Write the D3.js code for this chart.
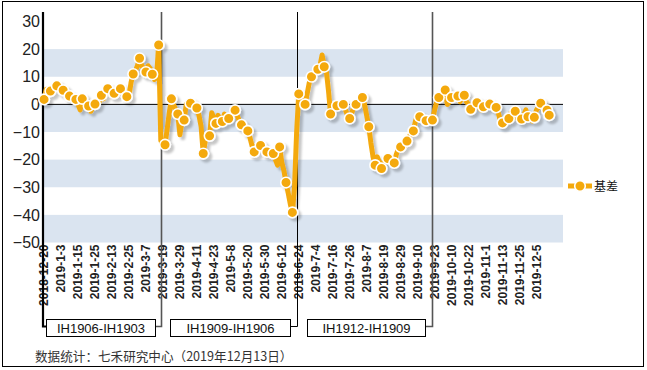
<!DOCTYPE html>
<html lang="zh">
<head>
  <meta charset="utf-8">
  <title>IH basis</title>
  <script src="https://d3js.org/d3.v7.min.js"></script>
  <style>
    body { margin: 0; background: #fff; }
    svg { display: block; font-family: "Liberation Sans", Arial, sans-serif; }
  </style>
</head>
<body>
<svg id="chart" width="647" height="370"></svg>
<script>
// basis series, one value per trading day from 2018-12-20 to 2019-12-13
var basis = [
  1.8, 5.5, 5.5, 4.8, 4, 6, 6.7, 6, 5, 5.1,
  4, 4.5, 3, 2, 2.5, 1.8, 0, -2, 2, 0.5,
  -1, -0.6, -2.5, -1, 0.1, 0.5, 1, 3.3, 2, 5,
  5.7, 5, 3, 4, 4, 6, 5.7, 5, 4, 2.8,
  3, 8, 11, 12, 14, 16.7, 14, 13, 11.7, 14,
  13, 10.9, 9, 10, 21.5, -13, -15, -14.6, -9, -3,
  2, 0, -2, -3.5, -11, -6, -5.7, 0, 1, 0.4,
  -1, 0, -1.3, -4, -8, -17.8, -13, -12, -11.4, -3,
  -5, -6.9, -4, -6, -6.2, -3.5, -5, -5.1, -4, -3,
  -2.1, -4, -6, -7.4, -9, -9, -9.6, -12, -15, -17.2,
  -15, -15, -14.9, -16, -17, -17.2, -17, -17.5, -17.8, -20,
  -22, -15.4, -21, -24, -28.3, -32, -36, -39.1, -30, -10,
  3.8, 2, 1, 0, 4, 8, 10, 11, 13, 12.7,
  14, 17.9, 13.6, 12, 5, -3.5, -2, -1, -0.5, -0.3,
  0, 0, -2, -4, -5.1, -3, -1, 0, 1, 2,
  2.5, 0, -4, -8.1, -14, -19, -22, -19, -21, -23.2,
  -21, -20, -19.6, -19, -20, -21.2, -18, -16, -15.4, -14,
  -15, -13.3, -12, -10, -9.6, -6, -4, -4.5, -4, -5,
  -5.9, -5, -6, -5.7, -2, 1, 2.5, 3.5, 4.5, 5.2,
  0, 1, 2.5, 3, 2, 3, 1, 3, 3.3, 1,
  0, -1.8, -1, 1, 0.6, -1, -2, -0.9, 0, 1,
  0.1, -1, -1, -1.1, -3, -6, -6.7, -6, -5, -5.1,
  -3, -3, -2.5, -5, -6, -5.3, -4, -2, -4.5, -5,
  -6, -4.7, -2, -1, 0.4, -1, -2, -2.1, -3.9
];

// category labels shown on the axis (every 8th trading day)
var tickLabels = [
  "2018-12-20", "2019-1-3", "2019-1-15", "2019-1-25", "2019-2-13", "2019-2-25",
  "2019-3-7", "2019-3-19", "2019-3-29", "2019-4-11", "2019-4-23", "2019-5-8",
  "2019-5-20", "2019-5-30", "2019-6-12", "2019-6-24", "2019-7-4", "2019-7-16",
  "2019-7-26", "2019-8-7", "2019-8-19", "2019-8-29", "2019-9-10", "2019-9-23",
  "2019-10-10", "2019-10-22", "2019-11-1", "2019-11-13", "2019-11-25", "2019-12-5"
];
var tickStep = 8;
var nCats = 245;

var yTicks = [30, 20, 10, 0, -10, -20, -30, -40, -50];

// contract rolls: index of the roll day and the spread name
var rollIdx = [55, 119, 183];
var rollNames = ["IH1906-IH1903", "IH1909-IH1906", "IH1912-IH1909"];

var seriesName = "基差";
var source = "数据统计：七禾研究中心（2019年12月13日）";

var orange = "#f4a90c";

var svg = d3.select("#chart");
var plotL = 43, plotR = 563, plotT = 21.5, plotB = 242.5;

var x = d3.scaleLinear().domain([-0.5, nCats - 0.5]).range([plotL, plotR]);
var y = d3.scaleLinear().domain([-50, 30]).range([plotB, plotT]);

var defs = svg.append("defs");
defs.append("filter").attr("id", "shadow")
    .attr("x", "-10%").attr("y", "-10%").attr("width", "120%").attr("height", "120%")
  .append("feDropShadow")
    .attr("dx", 3).attr("dy", 3).attr("stdDeviation", 1)
    .attr("flood-color", "#000").attr("flood-opacity", 0.22);

// outer frame
svg.append("rect")
    .attr("x", 2.5).attr("y", 1.5).attr("width", 641).attr("height", 365)
    .attr("fill", "#fff").attr("stroke", "#000").attr("stroke-width", 1);

// alternating bands: 10..20, -10..0, -30..-20, -50..-40
var bands = [];
for (var b = 0; b < yTicks.length - 1; b++) bands.push([yTicks[b], yTicks[b + 1]]);
svg.append("g").selectAll("rect")
    .data(bands.filter(function(d, i) { return i % 2 === 1; }))
  .enter().append("rect")
    .attr("x", plotL).attr("width", plotR - plotL)
    .attr("y", function(d) { return y(d[0]); })
    .attr("height", function(d) { return y(d[1]) - y(d[0]); })
    .attr("fill", "#dae4f0");

// zero line
svg.append("line")
    .attr("x1", plotL).attr("x2", plotR)
    .attr("y1", y(0)).attr("y2", y(0))
    .attr("stroke", "#000").attr("stroke-width", 1);

// y axis labels
var yAxis = d3.axisLeft(y).tickValues(yTicks).tickSize(0).tickPadding(3);
var gy = svg.append("g").attr("transform", "translate(" + plotL + ",0)").call(yAxis);
gy.select(".domain").remove();
gy.selectAll("text").attr("font-size", 16).attr("fill", "#222")
    .attr("font-family", "'Liberation Sans', Arial, sans-serif");

// x labels, rotated
svg.append("g").selectAll("text")
    .data(tickLabels)
  .enter().append("text")
    .attr("transform", function(d, i) {
      return "translate(" + x(i * tickStep) + "," + (plotB + 2) + ") rotate(-90)";
    })
    .attr("text-anchor", "end")
    .attr("dy", "0.35em")
    .attr("font-size", 12)
    .attr("font-weight", "bold")
    .attr("fill", "#222")
    .text(function(d) { return d; });

// roll lines and bracket boxes
var boxY = 319, boxH = 17, linkY = 326.5;
var boxes = [[46.5, 155.5], [170.5, 290.5], [307.5, 425.5]];
var rollColors = ["#555", "#000", "#555"];
var rollWidths = [1.6, 1, 1.6];
rollIdx.forEach(function(r, i) {
  var rx = Math.round(x(r)) + 0.5;
  svg.append("path")
      .attr("d", "M" + rx + ",12V" + linkY + "H" + boxes[i][1])
      .attr("fill", "none")
      .attr("stroke", rollColors[i]).attr("stroke-width", rollWidths[i]);
});
boxes.forEach(function(bx, i) {
  svg.append("rect")
      .attr("x", bx[0]).attr("y", boxY + 0.5)
      .attr("width", bx[1] - bx[0]).attr("height", boxH)
      .attr("fill", "#fff").attr("stroke", "#000").attr("stroke-width", 1);
  svg.append("text")
      .attr("x", (bx[0] + bx[1]) / 2).attr("y", boxY + boxH / 2 + 5)
      .attr("text-anchor", "middle")
      .attr("font-size", 13)
      .attr("fill", "#111")
      .text(rollNames[i]);
});

// left axis line, running down to the first bracket
svg.append("path")
    .attr("d", "M" + plotL + ",12V" + linkY + "H" + boxes[0][0])
    .attr("fill", "none").attr("stroke", "#000").attr("stroke-width", 2.2);

// series
var line = d3.line()
    .x(function(d, i) { return x(i); })
    .y(function(d) { return y(d); });

var gs = svg.append("g").attr("filter", "url(#shadow)");
gs.append("path")
    .datum(basis)
    .attr("d", line)
    .attr("fill", "none")
    .attr("stroke", orange)
    .attr("stroke-width", 5)
    .attr("stroke-linejoin", "round");

var marked = basis.map(function(v, i) { return {i: i, v: v}; })
    .filter(function(d) { return d.i % 3 === 0 || d.i === basis.length - 1; });
gs.selectAll("circle")
    .data(marked)
  .enter().append("circle")
    .attr("cx", function(d) { return x(d.i); })
    .attr("cy", function(d) { return y(d.v); })
    .attr("r", 5.3)
    .attr("fill", orange)
    .attr("stroke", "#fff")
    .attr("stroke-width", 1.6);

// legend
var lg = svg.append("g").attr("transform", "translate(568,186)");
lg.append("line").attr("x1", 0).attr("x2", 24)
    .attr("stroke", orange).attr("stroke-width", 5);
lg.append("circle").attr("cx", 12).attr("r", 5.3)
    .attr("fill", orange).attr("stroke", "#fff").attr("stroke-width", 1.6);
lg.append("text").attr("x", 26).attr("y", 4.5)
    .attr("font-size", 12).attr("fill", "#111")
    .attr("font-family", "'Noto Sans CJK SC', sans-serif")
    .text(seriesName);

// source note
svg.append("text")
    .attr("x", 35).attr("y", 361)
    .attr("font-size", 12.6).attr("fill", "#333")
    .attr("font-family", "'Noto Sans CJK SC', sans-serif")
    .text(source);
</script>
</body>
</html>
